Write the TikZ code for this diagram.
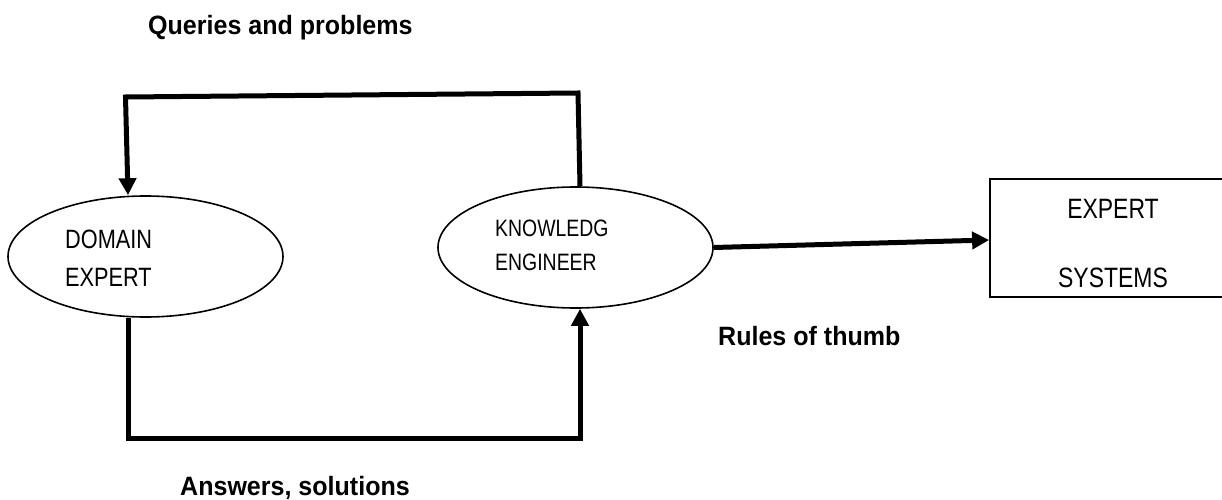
\documentclass[tikz,border=0pt]{standalone}
\usepackage{fontspec}
\setmainfont{Liberation Sans}
\newfontfamily\narf[FakeStretch=0.82]{Liberation Sans}
\newfontfamily\narbf[FakeStretch=0.945]{Liberation Sans}
\usetikzlibrary{shapes.geometric,arrows.meta}
\begin{document}
\begin{tikzpicture}[x=1pt,y=1pt,
  ell/.style={draw,ellipse,line width=1.6pt,minimum width=275pt,minimum height=121pt,inner sep=0pt},
  boxst/.style={draw,rectangle,line width=1.8pt,minimum width=234pt,minimum height=118pt,inner sep=0pt},
  conn/.style={line width=5pt,line join=miter},
  tip/.style={-{Triangle[length=17pt,width=17pt]}},
  txt/.style={inner sep=0pt,anchor=base west,font=\narf\fontsize{26.5}{30}\selectfont},
  ktxt/.style={inner sep=0pt,anchor=base west,font=\narf\fontsize{23.7}{28}\selectfont},
  btxt/.style={inner sep=0pt,anchor=base,font=\narf\fontsize{28}{32}\selectfont},
  lab/.style={inner sep=0pt,anchor=base west,font=\narbf\bfseries\fontsize{26.5}{30}\selectfont}
]
\useasboundingbox (0,0) rectangle (1222,-500);

% shapes
\node[ell] (de) at (145.5,-256.5) {};
\node[ell] (ke) at (575.5,-247.5) {};
\node[boxst] (es) at (1107,-238) {};

% texts
\node[txt] (de1) at (65,-248) {DOMAIN};
\node[txt] (de2) at (65,-286) {EXPERT};
\node[ktxt] (ke1) at (495,-236) {KNOWLEDG};
\node[ktxt] (ke2) at (495,-270) {ENGINEER};
\node[btxt] (es1) at (1113,-218) {EXPERT};
\node[btxt] (es2) at (1113,-287) {SYSTEMS};
\node[lab] (q) at (148,-35) {Queries and problems};
\node[lab] (a) at (180,-495) {Answers, solutions};
\node[lab] (r) at (718,-345) {Rules of thumb};

% corner coordinates
\coordinate (tr) at (578,-93);
\coordinate (tl) at (125.5,-97);
\coordinate (bl) at (128,-438);
\coordinate (br) at (580,-438);

% connectors
\draw[conn,tip] ([xshift=4.5pt]ke.north) -- (tr) -- (tl) -- ([xshift=-17.5pt]de.north);
\draw[conn,tip] ([xshift=-17.5pt]de.south) -- (bl) -- (br) -- ([xshift=4.5pt]ke.south);
\draw[conn,tip] (ke.east) -- ([yshift=-2pt]es.west);
\end{tikzpicture}
\end{document}
